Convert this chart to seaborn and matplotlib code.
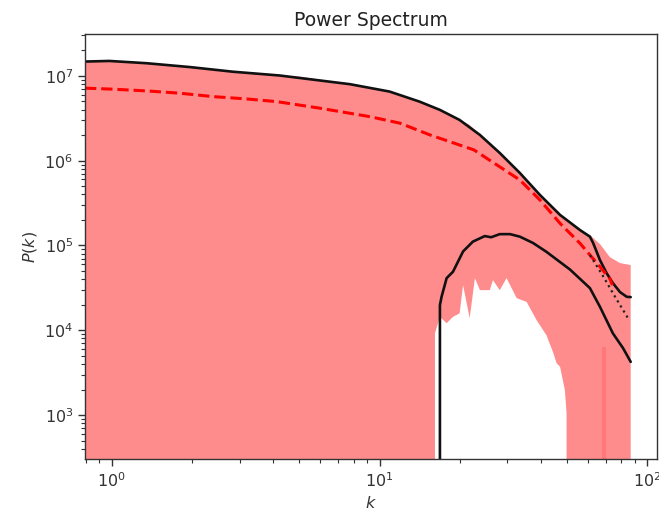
import matplotlib
matplotlib.use("Agg")
import matplotlib.pyplot as plt
import seaborn as sns

# Shaded spread of the spectrum, sampled on a shared k grid
k_band = [0.795, 0.98, 1.35, 1.96, 2.83, 4.24, 5.04, 7.75, 10.9, 14.1, 16.0,
          16.1, 16.8, 17.8, 18.8, 19.9, 20.5, 21.7, 22.7, 23.7, 25.8, 26.5,
          28.1, 29.8, 32.5, 35.4, 38.6, 42.0, 44.4, 45.8, 47.2, 49.2, 49.9,
          50.3, 56.0, 61.0, 66.5, 72.4, 79.0, 86.6]
band_upper = [1.475e7, 1.50e7, 1.41e7, 1.27e7, 1.12e7, 1.01e7, 9.8e6, 7.98e6,
              6.53e6, 4.97e6, 4.2e6, 4.19e6, 3.97e6, 3.66e6, 3.33e6, 3.02e6,
              2.90e6, 2.64e6, 2.30e6, 2.01e6, 1.575e6, 1.45e6, 1.233e6,
              1.028e6, 7.83e5, 5.92e5, 4.33e5, 3.25e5, 2.73e5, 2.48e5, 2.29e5,
              2.05e5, 1.97e5, 1.94e5, 1.52e5, 1.327e5, 1.04e5, 7.29e4, 6.20e4,
              5.87e4]
band_lower = [0, 0, 0, 0, 0, 0, 0, 0, 0, 0, 0,
              9.2e3, 1.44e4, 1.21e4, 1.44e4, 1.58e4, 3.40e4, 1.39e4, 4.12e4,
              2.97e4, 2.97e4, 3.9e4, 2.97e4, 4.12e4, 2.39e4, 2.16e4, 1.31e4,
              8.7e3, 5.55e3, 4.09e3, 3.70e3, 1.96e3, 1.05e3,
              0, 0, 0, 0, 0, 0, 0]

# Narrow overlapping sliver of the spread
k_sliver = [67.4, 70.0]
sliver_upper = [6.3e3, 6.3e3]
sliver_lower = [0, 0]

# Total measured spectrum
k_total = [0.795, 0.98, 1.35, 1.96, 2.83, 4.24, 7.75, 10.9, 14.1, 16.8, 19.9,
           23.7, 28.1, 33.4, 39.7, 47.2, 56.0, 61.0, 62.7, 66.5, 70.4, 74.3,
           79.0, 83.7, 86.6]
p_total = [1.475e7, 1.50e7, 1.41e7, 1.27e7, 1.12e7, 1.01e7, 7.98e6, 6.53e6,
           4.97e6, 3.97e6, 3.02e6, 2.01e6, 1.233e6, 7.16e5, 3.94e5, 2.29e5,
           1.52e5, 1.27e5, 1.07e5, 6.72e4, 4.72e4, 3.6e4, 2.82e4, 2.48e4,
           2.46e4]

# Model spectrum
k_model = [0.795, 1.009, 1.348, 1.795, 2.384, 3.18, 4.13, 5.98, 9.22, 11.9,
           15.44, 22.5, 33.4, 39.7, 47.2, 56.0, 66.5, 72.4, 74.0]
p_model = [7.17e6, 6.97e6, 6.65e6, 6.25e6, 5.70e6, 5.35e6, 4.97e6, 4.16e6,
           3.30e6, 2.77e6, 2.01e6, 1.34e6, 5.92e5, 3.44e5, 1.82e5, 1.06e5,
           5.61e4, 4.07e4, 3.4e4]

# Model continuation at high k
k_tail = [61.0, 63.7, 69.0, 74.3, 84.6]
p_tail = [7.7e4, 6.2e4, 4.12e4, 2.74e4, 1.39e4]

# Small-scale component (zero below k ~ 16.8)
k_small = [0.795, 5.0, 16.6, 16.8, 17.04, 17.8, 18.8, 20.5, 22.3, 24.7, 26.1,
           28.1, 30.7, 33.4, 37.4, 42.0, 51.4, 61.0, 66.5, 74.3, 81.1, 86.6]
p_small = [0, 0, 0, 1.98e4, 2.48e4, 4.12e4, 4.9e4, 8.5e4, 1.11e5, 1.29e5,
           1.25e5, 1.36e5, 1.36e5, 1.27e5, 1.07e5, 8.4e4, 5.2e4, 3.14e4,
           1.89e4, 9.2e3, 6.15e3, 4.24e3]

sns.set_theme(style="ticks")
plt.rcParams["font.family"] = ["DejaVu Sans"]
plt.rcParams["mathtext.fontset"] = "dejavusans"

fig = plt.figure(figsize=(6.59, 5.13), dpi=100)
ax = fig.add_axes([0.129, 0.105, 0.868, 0.829])
ax.set_xscale("log")
ax.set_yscale("log")

ax.fill_between(k_band, band_lower, band_upper, color="red", alpha=0.45, lw=0)
ax.fill_between(k_sliver, sliver_lower, sliver_upper, color="red", alpha=0.15, lw=0)

sns.lineplot(x=k_total, y=p_total, ax=ax, color="#111111", lw=1.9,
             estimator=None, sort=False)
sns.lineplot(x=k_model, y=p_model, ax=ax, color="red", lw=2.2,
             linestyle="--", estimator=None, sort=False)
sns.lineplot(x=k_tail, y=p_tail, ax=ax, color="#222222", lw=1.6,
             linestyle=":", estimator=None, sort=False)
ax.plot(k_small, p_small, color="#111111", lw=1.9)

ax.set_xlim(0.795, 108.6)
ax.set_ylim(302, 3.13e7)

for side in ax.spines.values():
    side.set_color("#333333")
    side.set_linewidth(1.0)
ax.tick_params(which="major", length=5, width=1.0, colors="#333333",
               labelsize=11.5, labelcolor="#333333")
ax.tick_params(which="minor", length=3, width=0.8, colors="#333333")

ax.set_title("Power Spectrum", fontsize=13.5, color="#222222")
ax.set_xlabel("$k$", fontsize=11.5, color="#333333")
ax.set_ylabel("$P(k)$", fontsize=11.5, color="#333333")

fig.savefig("out.png", dpi=100)
